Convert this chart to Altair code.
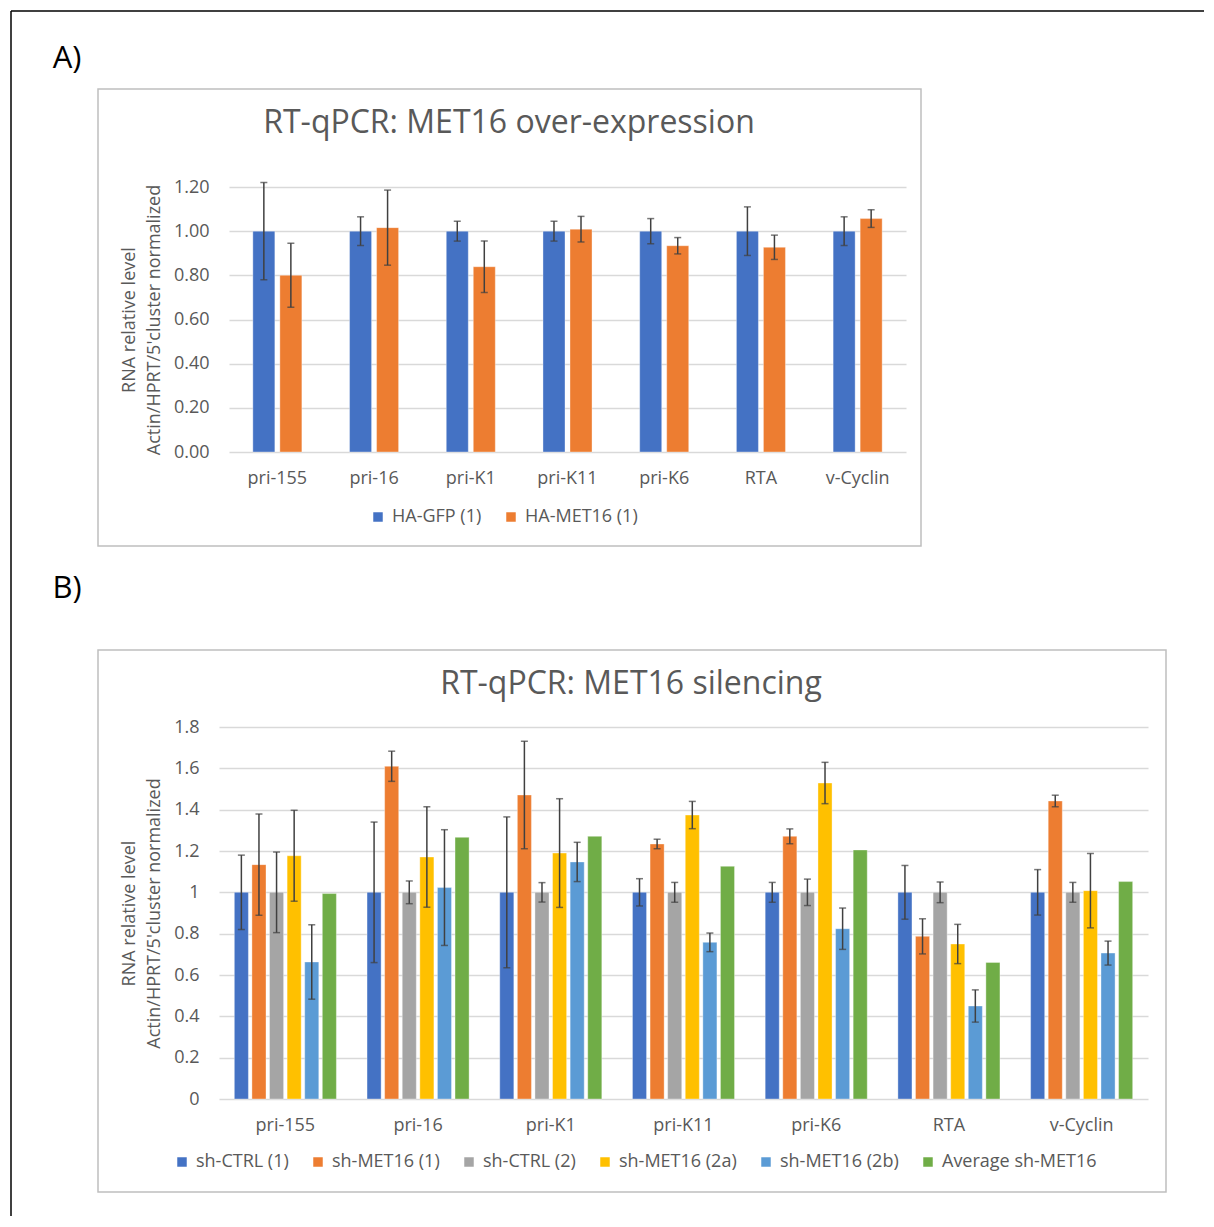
import altair as alt
import pandas as pd

FONT = "Open Sans"
TXT = "#595959"
ERR = "#404040"

categories = ["pri-155", "pri-16", "pri-K1", "pri-K11", "pri-K6", "RTA", "v-Cyclin"]

# Panel A
a_series = ["HA-GFP (1)", "HA-MET16 (1)"]
a_colors = ["#4472C4", "#ED7D31"]
a_gfp = [1.00, 1.00, 1.00, 1.00, 1.00, 1.00, 1.00]
a_gfp_err = [0.22, 0.065, 0.045, 0.045, 0.057, 0.11, 0.065]
a_met = [0.80, 1.016, 0.839, 1.009, 0.934, 0.927, 1.057]
a_met_err = [0.145, 0.17, 0.117, 0.058, 0.037, 0.055, 0.04]
a_ticks = [0, 0.2, 0.4, 0.6, 0.8, 1.0, 1.2]

# Panel B
b_series = ["sh-CTRL (1)", "sh-MET16 (1)", "sh-CTRL (2)", "sh-MET16 (2a)", "sh-MET16 (2b)", "Average sh-MET16"]
b_colors = ["#4472C4", "#ED7D31", "#A5A5A5", "#FFC000", "#5B9BD5", "#70AD47"]
b_ctrl1 = [1, 1, 1, 1, 1, 1, 1]
b_ctrl1_err = [0.18, 0.34, 0.365, 0.066, 0.048, 0.13, 0.11]
b_met1 = [1.134, 1.61, 1.471, 1.234, 1.271, 0.787, 1.442]
b_met1_err = [0.245, 0.073, 0.26, 0.023, 0.036, 0.085, 0.028]
b_ctrl2 = [1, 1, 1, 1, 1, 1, 1]
b_ctrl2_err = [0.195, 0.055, 0.047, 0.048, 0.064, 0.05, 0.048]
b_met2a = [1.177, 1.171, 1.19, 1.374, 1.529, 0.75, 1.008]
b_met2a_err = [0.22, 0.243, 0.263, 0.066, 0.1, 0.095, 0.18]
b_met2b = [0.663, 1.023, 1.147, 0.758, 0.824, 0.45, 0.706]
b_met2b_err = [0.18, 0.28, 0.095, 0.045, 0.1, 0.078, 0.058]
b_avg = [0.994, 1.266, 1.271, 1.126, 1.205, 0.661, 1.052]
b_ticks = [0, 0.2, 0.4, 0.6, 0.8, 1.0, 1.2, 1.4, 1.6, 1.8]


def build(series, values, errors):
    rows, erows = [], []
    for s, vals, errs in zip(series, values, errors):
        for i, (c, v) in enumerate(zip(categories, vals)):
            rows.append(dict(cat=c, series=s, value=v))
            if errs is not None:
                e = errs[i]
                erows.append(dict(cat=c, series=s, lo=v - e, hi=v + e))
    return pd.DataFrame(rows), pd.DataFrame(erows)


one = pd.DataFrame({"k": [0]})


def panel(df, edf, series, colors, W, H, ymax, yvals, yfmt, cat_pad, off_pad,
          title, title_xy, letter, letter_xy, frame, legend_xy, extra=None):
    x = alt.X("cat:N", sort=categories,
              scale=alt.Scale(paddingInner=cat_pad, paddingOuter=cat_pad / 2),
              axis=alt.Axis(title=None, labelAngle=0, labelFontSize=18, labelColor=TXT,
                            labelFont=FONT, ticks=False, domain=False, labelPadding=17))
    xo = alt.XOffset("series:N", sort=series,
                     scale=alt.Scale(domain=series, paddingInner=off_pad, paddingOuter=0))
    yaxis = alt.Axis(values=yvals, format=yfmt,
                     title=["RNA relative level", "Actin/HPRT/5'cluster normalized"],
                     grid=True, gridColor="#d9d9d9", gridWidth=1.5, domain=False, ticks=False,
                     labelFontSize=18, labelColor=TXT, labelFont=FONT, labelPadding=20,
                     titleFont=FONT, titleFontSize=18, titleFontWeight="normal",
                     titleColor=TXT, titlePadding=10, titleLineHeight=25)
    ys = alt.Scale(domain=[0, ymax], nice=False)
    bars = alt.Chart(df).mark_bar(stroke="white", strokeWidth=0.6, strokeOpacity=0.6).encode(
        x=x, xOffset=xo,
        y=alt.Y("value:Q", scale=ys, axis=yaxis),
        color=alt.Color("series:N", sort=series,
                        scale=alt.Scale(domain=series, range=colors),
                        legend=alt.Legend(title=None, orient="none", legendX=legend_xy[0],
                                          legendY=legend_xy[1], direction="horizontal",
                                          symbolType="square", symbolSize=90,
                                          symbolStrokeWidth=0, labelFontSize=18,
                                          labelFont=FONT, labelColor=TXT, labelOffset=5,
                                          columnPadding=20)),
    )
    rule = alt.Chart(edf).mark_rule(color=ERR, strokeWidth=1.5).encode(
        x=x, xOffset=xo, y=alt.Y("lo:Q", scale=ys, axis=yaxis), y2="hi:Q")
    cap_hi = alt.Chart(edf).mark_tick(orient="horizontal", size=7, thickness=1.5, color=ERR).encode(
        x=x, xOffset=xo, y=alt.Y("hi:Q", scale=ys, axis=yaxis))
    cap_lo = alt.Chart(edf).mark_tick(orient="horizontal", size=7, thickness=1.5, color=ERR).encode(
        x=x, xOffset=xo, y=alt.Y("lo:Q", scale=ys, axis=yaxis))
    box = alt.Chart(one).mark_rect(fillOpacity=0, stroke="#bfbfbf", strokeWidth=1.5).encode(
        x=alt.value(frame[0]), x2=alt.value(frame[1]), y=alt.value(frame[2]), y2=alt.value(frame[3]))
    ttl = alt.Chart(one).mark_text(text=title, font=FONT, fontSize=32, color=TXT,
                                   align="center", baseline="middle").encode(
        x=alt.value(title_xy[0]), y=alt.value(title_xy[1]))
    let = alt.Chart(one).mark_text(text=letter, font=FONT, fontSize=31, color="black",
                                   align="center", baseline="middle").encode(
        x=alt.value(letter_xy[0]), y=alt.value(letter_xy[1]))
    layers = [box, bars, rule, cap_hi, cap_lo, ttl, let]
    if extra:
        layers += extra
    return alt.layer(*layers).properties(width=W, height=H)


dfA, edfA = build(a_series, [a_gfp, a_met], [a_gfp_err, a_met_err])
dfB, edfB = build(b_series, [b_ctrl1, b_met1, b_ctrl2, b_met2a, b_met2b, b_avg],
                  [b_ctrl1_err, b_met1_err, b_ctrl2_err, b_met2a_err, b_met2b_err, None])

# page frame lines (relative to panel A plot origin at page (228,186))
frame_top = alt.Chart(one).mark_rule(color="black", strokeWidth=1.5).encode(
    x=alt.value(-218), x2=alt.value(975), y=alt.value(-176))
frame_left = alt.Chart(one).mark_rule(color="black", strokeWidth=1.5).encode(
    x=alt.value(-218), y=alt.value(-176), y2=alt.value(1029))

WA, HA = 677, 265
chartA = panel(dfA, edfA, a_series, a_colors, WA, HA, 1.2, a_ticks, ".2f", 0.493, 0.185,
               "RT-qPCR: MET16 over-expression", (280, -64), "A)", (-162, -128),
               (-131, 692, -98, 359), (150, 321), extra=[frame_top, frame_left])

WB, HB = 929, 372
chartB = panel(dfB, edfB, b_series, b_colors, WB, HB, 1.8, b_ticks, ".1~f", 0.231, 0.2,
               "RT-qPCR: MET16 silencing", (412, -43), "B)", (-152, -138),
               (-121, 947, -77, 465), (-46, 426))

spacer = alt.Chart(one).mark_point(opacity=0).encode(
    x=alt.value(0), y=alt.value(0)).properties(width=10, height=HA)

rowA = alt.hconcat(spacer, chartA, spacing=0, bounds="flush")

chart = alt.vconcat(rowA, chartB, spacing=540, bounds="flush").resolve_scale(
    color="independent", x="independent", y="independent", xOffset="independent"
).configure_view(stroke=None).properties(
    padding={"left": 2, "top": 2, "right": 0, "bottom": 0}, background="white")

chart.save("out.html", embed_options={"renderer": "svg", "actions": False})
